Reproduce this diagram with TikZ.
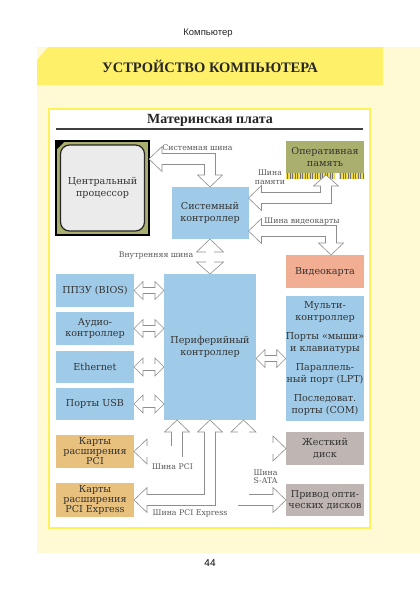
\documentclass[tikz,border=0pt]{standalone}
\usepackage{fontspec}
\setmainfont{DejaVu Serif}
\newfontfamily\headfont{Liberation Sans}
\newfontfamily\titlefont{Liberation Serif}
\usetikzlibrary{positioning,calc}

\definecolor{ctrlblue}{HTML}{A0CBE8}
\definecolor{boardolive}{HTML}{ABAF6E}
\definecolor{vidsalmon}{HTML}{F2AE93}
\definecolor{cardtan}{HTML}{E8C17E}
\definecolor{diskgray}{HTML}{BFB6B4}
\definecolor{hdryellow}{HTML}{FFF06A}
\definecolor{pagecream}{HTML}{FFF9D4}
\definecolor{framey}{HTML}{FFF15C}
\definecolor{pinyellow}{HTML}{F3DC45}
\definecolor{busline}{HTML}{8E8E8E}

% hollow arrow head: tip, direction, length, half width, half shaft
\newcommand{\arrhead}[5]{%
  \begin{scope}[shift={(#1)}, rotate=#2]
    \filldraw[fill=white, draw=busline, line width=.6pt] (0,0) -- (-#3,#4) -- (-#3,-#4) -- cycle;
    \draw[white, line width=1.2pt] (-#3,-#5) -- (-#3,#5);
  \end{scope}}

\begin{document}
\begin{tikzpicture}[x=1pt, y=-1pt,
  box/.style={inner sep=0pt, outer sep=0pt, align=center, text=black!80,
    font=\fontsize{9.6}{11.5}\selectfont, minimum width=78pt, minimum height=33pt},
  lbl/.style={inner sep=0pt, align=center, text=black!65, font=\fontsize{7.8}{8.5}\selectfont},
  bus/.style={white, line width=10.4pt, preaction={draw=busline, line width=11.6pt}},
  ibus/.style={white, line width=7.4pt, preaction={draw=busline, line width=8.6pt}},
  sbus/.style={white, line width=5.8pt, preaction={draw=busline, line width=7pt}},
  cut/.style={shorten <=#1, shorten >=#1}]
  \useasboundingbox (0,0) rectangle (420,600);
  \fill[white] (0,0) rectangle (420,600);
  \node[font=\headfont\fontsize{9.5}{10}\selectfont, text=black!85] (runhead) at (208,33) {Компьютер};
  \fill[pagecream] (37,47) rectangle (420,553);
  \fill[hdryellow] (37,60) -- (48,47) -- (383,47) -- (383,85) -- (37,85) -- cycle;
  \node[font=\titlefont\bfseries\fontsize{14.5}{15}\selectfont, text=black!85] (title) at (210,66.5) {УСТРОЙСТВО КОМПЬЮТЕРА};
  \node[font=\headfont\fontsize{10}{11}\selectfont] (pageno) at (210,563) {44};

  % the board
  \filldraw[fill=white, draw=framey, line width=2pt] (49,109) rectangle (370,528);
  \node[font=\titlefont\bfseries\fontsize{14}{15}\selectfont, text=black!85] (board) at (210,120.5) {Материнская плата};
  \draw[black!75, line width=1.5pt] (56,129) -- (363,129);

  \node[box, fill=boardolive, draw=black, line width=1.2pt, minimum width=93pt, minimum height=94pt] (cpu) at (102.5,188) {};
  \fill[black] (cpu.north west) -- ++(9,0) -- ++(-9,9) -- cycle;
  \node[box, fill=black!8, draw=black!85, line width=1.2pt, rounded corners=9pt,
    minimum width=84pt, minimum height=86pt] (core) at (cpu) {Центральный\\процессор};
  \node[box, fill=ctrlblue, minimum width=77pt, minimum height=52pt] (sysc) at (210,213) {Системный\\контроллер};
  \node[box, fill=boardolive, minimum height=32pt] (ram) at (325,157) {Оперативная\\память};
  \fill[pinyellow] (286,173) rectangle (335,179) (339,173) rectangle (364,179);
  \foreach \px in {287.5,290,...,334} \draw[black!55, line width=.35pt] (\px,173) -- (\px,179);
  \foreach \px in {340.5,343,...,363} \draw[black!55, line width=.35pt] (\px,173) -- (\px,179);
  \node[box, fill=vidsalmon] (video) at (325,271.5) {Видеокарта};
  \node[box, fill=ctrlblue, minimum width=92pt, minimum height=146pt] (periph) at (210,347) {Периферийный\\контроллер};

  \node[box, fill=ctrlblue] (bios) at (95,290.5) {ППЗУ (BIOS)};
  \node[box, fill=ctrlblue, below=5pt of bios] (audio) {Аудио-\\контроллер};
  \node[box, fill=ctrlblue, minimum height=32pt, below=6pt of audio] (eth) {Ethernet};
  \node[box, fill=ctrlblue, minimum height=32pt, below=5pt of eth] (usb) {Порты USB};
  \node[box, fill=ctrlblue, minimum height=125pt] (multi) at (325,358.5)
    {Мульти-\\контроллер\\[8pt]Порты «мыши»\\и клавиатуры\\[8pt]Параллель-\\ный порт (LPT)\\[8pt]Последоват.\\порты (COM)};

  \node[box, fill=cardtan, font=\fontsize{9.6}{10}\selectfont] (pci) at (95,451.5) {Карты\\расширения\\PCI};
  \node[box, fill=cardtan, font=\fontsize{9.6}{10}\selectfont, minimum height=34pt, below=15pt of pci] (pcie) {Карты\\расширения\\PCI Express};
  \node[box, fill=diskgray] (hdd) at (325,448.5) {Жесткий\\диск};
  \node[box, fill=diskgray, minimum height=32pt] (odd) at (325,500) {Привод опти-\\ческих дисков};

  % buses round the system controller
  \coordinate (sb) at (0,159);
  \coordinate (mb) at (0,198);
  \coordinate (mtip) at (326,175);
  \coordinate (vb) at (331,231);
  \draw[bus, cut=8pt] (cpu.east|-sb) -| (sysc.north);
  \draw[bus, cut=8pt] (sysc.east|-mb) -| (mtip);
  \draw[bus, cut=8pt] (sysc.east|-vb) -| (video.north-|vb);
  \draw[ibus, cut=8pt] (sysc.south) -- (periph.north);
  \arrhead{cpu.east|-sb}{180}{13}{12.5}{5.2}
  \arrhead{sysc.north}{270}{12}{12.5}{5.2}
  \arrhead{sysc.east|-mb}{180}{13}{12.5}{5.2}
  \arrhead{mtip}{90}{11}{12.5}{5.2}
  \arrhead{sysc.east|-vb}{180}{13}{12.5}{5.2}
  \arrhead{video.north-|vb}{270}{12}{12.5}{5.2}
  \arrhead{sysc.south}{90}{13}{13.5}{3.7}
  \arrhead{periph.north}{270}{12}{13.5}{3.7}

  % small buses
  \foreach \b in {bios,audio,eth,usb}{
    \draw[sbus, cut=5pt] (\b.east) -- (\b.east-|periph.west);
    \arrhead{\b.east}{180}{9}{9}{2.9}
    \arrhead{\b.east-|periph.west}{0}{9}{9}{2.9}
  }
  \draw[sbus, cut=5pt] (periph.east|-multi.west) -- (multi.west);
  \arrhead{periph.east|-multi.west}{180}{9}{9}{2.9}
  \arrhead{multi.west}{0}{9}{9}{2.9}

  % PCI, PCI Express, S-ATA
  \coordinate (pb) at (177,420);
  \coordinate (sa) at (243.5,420);
  \draw[bus, cut=8pt] (pci.east) -| (pb);
  \draw[bus, cut=8pt] (pcie.east) -| (periph.south);
  \draw[bus] ([yshift=-8pt]sa) |- ([xshift=-8pt]odd.west) (sa|-hdd.west) -- ([xshift=-8pt]hdd.west);
  \arrhead{pci.east}{180}{13}{12.5}{5.2}
  \arrhead{pb}{90}{12}{12.5}{5.2}
  \arrhead{pcie.east}{180}{13}{12.5}{5.2}
  \arrhead{periph.south}{90}{12}{12.5}{5.2}
  \arrhead{sa}{90}{12}{12.5}{5.2}
  \arrhead{hdd.west}{0}{13}{12.5}{5.2}
  \arrhead{odd.west}{0}{13}{12.5}{5.2}

  \node[lbl] (lsb) at (197.5,148) {Системная шина};
  \node[lbl] (lmb) at (270,177) {Шина\\памяти};
  \node[lbl] (lvb) at (302,221) {Шина видеокарты};
  \node[lbl] (lib) at (156,256) {Внутренняя шина};
  \node[lbl] (lpci) at (172.5,467) {Шина PCI};
  \node[lbl] (lpcie) at (190,513) {Шина PCI Express};
  \node[lbl] (lsata) at (265.5,476.5) {Шина\\S-ATA};
\end{tikzpicture}
\end{document}
